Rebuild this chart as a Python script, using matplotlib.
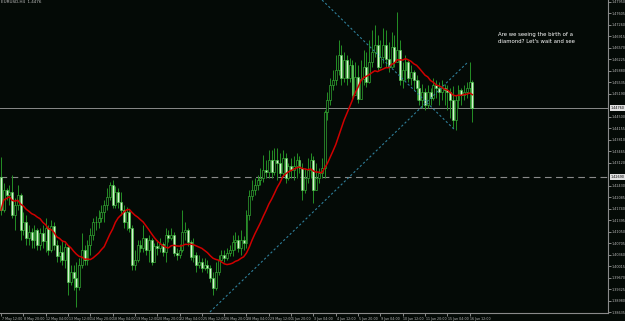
import matplotlib
matplotlib.use("Agg")
import matplotlib.pyplot as plt
import matplotlib.transforms as mtransforms
import numpy as np
import pandas as pd

# H4 candles, first open then close/high/low per bar
first_open = 1.4269
closes = [1.4170, 1.4230, 1.4215, 1.4224, 1.4155, 1.4185, 1.4215, 1.4110, 1.4134, 1.4086,
          1.4104, 1.4080, 1.4110, 1.4065, 1.4101, 1.4077, 1.4116, 1.4050, 1.4122, 1.4065,
          1.4032, 1.4044, 1.4020, 1.4059, 1.3954, 1.3984, 1.3966, 1.3939, 1.4005, 1.4050,
          1.4020, 1.4065, 1.4095, 1.4134, 1.4134, 1.4146, 1.4164, 1.4185, 1.4209, 1.4245,
          1.4185, 1.4224, 1.4194, 1.4170, 1.4134, 1.4164, 1.4116, 1.4005, 1.4020, 1.4065,
          1.4056, 1.4086, 1.4050, 1.4080, 1.4014, 1.4062, 1.4056, 1.4068, 1.4044, 1.4095,
          1.4086, 1.4095, 1.4041, 1.4035, 1.4050, 1.4104, 1.4110, 1.4074, 1.4029, 1.4035,
          1.4005, 1.4014, 1.3996, 1.4005, 1.3996, 1.3966, 1.3936, 1.3984, 1.4020, 1.4035,
          1.4026, 1.4041, 1.4050, 1.4074, 1.4080, 1.4056, 1.4080, 1.4071, 1.4155, 1.4212,
          1.4230, 1.4245, 1.4260, 1.4266, 1.4290, 1.4284, 1.4320, 1.4284, 1.4320, 1.4310,
          1.4280, 1.4325, 1.4265, 1.4301, 1.4289, 1.4301, 1.4319, 1.4295, 1.4229, 1.4265,
          1.4289, 1.4319, 1.4229, 1.4265, 1.4280, 1.4295, 1.4464, 1.4500, 1.4545, 1.4560,
          1.4590, 1.4635, 1.4566, 1.4620, 1.4566, 1.4605, 1.4516, 1.4570, 1.4504, 1.4564,
          1.4600, 1.4555, 1.4615, 1.4645, 1.4666, 1.4600, 1.4630, 1.4666, 1.4624, 1.4600,
          1.4660, 1.4615, 1.4650, 1.4560, 1.4590, 1.4614, 1.4566, 1.4584, 1.4560, 1.4536,
          1.4500, 1.4524, 1.4485, 1.4524, 1.4506, 1.4545, 1.4536, 1.4524, 1.4536, 1.4530,
          1.4524, 1.4500, 1.4440, 1.4500, 1.4530, 1.4515, 1.4524, 1.4536, 1.4554, 1.4476]
highs = [1.4329, 1.4251, 1.4236, 1.4245, 1.4275, 1.4206, 1.4245, 1.4221, 1.4164, 1.4155,
         1.4125, 1.4116, 1.4125, 1.4116, 1.4116, 1.4125, 1.4146, 1.4125, 1.4140, 1.4134,
         1.4080, 1.4065, 1.4080, 1.4071, 1.4065, 1.4005, 1.4005, 1.4014, 1.4026, 1.4101,
         1.4065, 1.4080, 1.4116, 1.4146, 1.4152, 1.4170, 1.4185, 1.4200, 1.4236, 1.4254,
         1.4260, 1.4242, 1.4236, 1.4224, 1.4185, 1.4179, 1.4170, 1.4125, 1.4050, 1.4080,
         1.4080, 1.4125, 1.4080, 1.4095, 1.4086, 1.4071, 1.4080, 1.4086, 1.4074, 1.4116,
         1.4110, 1.4116, 1.4104, 1.4056, 1.4068, 1.4170, 1.4134, 1.4116, 1.4080, 1.4086,
         1.4044, 1.4035, 1.4026, 1.4026, 1.4020, 1.4005, 1.3984, 1.4014, 1.4035, 1.4050,
         1.4050, 1.4056, 1.4065, 1.4095, 1.4104, 1.4095, 1.4110, 1.4092, 1.4170, 1.4230,
         1.4260, 1.4266, 1.4275, 1.4296, 1.4335, 1.4320, 1.4350, 1.4350, 1.4356, 1.4355,
         1.4340, 1.4349, 1.4340, 1.4310, 1.4325, 1.4331, 1.4340, 1.4331, 1.4310, 1.4295,
         1.4325, 1.4340, 1.4331, 1.4310, 1.4295, 1.4325, 1.4470, 1.4524, 1.4566, 1.4590,
         1.4635, 1.4680, 1.4665, 1.4644, 1.4635, 1.4626, 1.4620, 1.4614, 1.4605, 1.4620,
         1.4650, 1.4644, 1.4680, 1.4710, 1.4725, 1.4695, 1.4680, 1.4716, 1.4710, 1.4674,
         1.4704, 1.4695, 1.4764, 1.4680, 1.4614, 1.4635, 1.4620, 1.4605, 1.4590, 1.4575,
         1.4560, 1.4548, 1.4536, 1.4545, 1.4536, 1.4566, 1.4560, 1.4554, 1.4560, 1.4548,
         1.4545, 1.4536, 1.4542, 1.4515, 1.4545, 1.4536, 1.4545, 1.4554, 1.4614, 1.4560]
lows = [1.4155, 1.4164, 1.4200, 1.4185, 1.4146, 1.4110, 1.4170, 1.4080, 1.4095, 1.4065,
        1.4065, 1.4056, 1.4056, 1.4050, 1.4050, 1.4056, 1.4044, 1.4035, 1.4044, 1.4050,
        1.4014, 1.4014, 1.4005, 1.3996, 1.3915, 1.3945, 1.3930, 1.3879, 1.3930, 1.3996,
        1.4005, 1.4005, 1.4035, 1.4080, 1.4110, 1.4116, 1.4134, 1.4134, 1.4170, 1.4200,
        1.4176, 1.4176, 1.4176, 1.4155, 1.4116, 1.4110, 1.4104, 1.3990, 1.3990, 1.4014,
        1.4044, 1.4044, 1.4035, 1.4014, 1.4005, 1.4026, 1.4035, 1.4044, 1.4032, 1.4014,
        1.4074, 1.4080, 1.4032, 1.4020, 1.4026, 1.4044, 1.4080, 1.4062, 1.4020, 1.4014,
        1.3984, 1.3996, 1.3984, 1.3990, 1.3981, 1.3954, 1.3915, 1.3930, 1.3975, 1.4014,
        1.4014, 1.4020, 1.4032, 1.4032, 1.4050, 1.4044, 1.4035, 1.4050, 1.4056, 1.4140,
        1.4200, 1.4215, 1.4230, 1.4245, 1.4254, 1.4266, 1.4266, 1.4266, 1.4275, 1.4259,
        1.4271, 1.4271, 1.4250, 1.4259, 1.4265, 1.4259, 1.4265, 1.4280, 1.4199, 1.4220,
        1.4250, 1.4265, 1.4190, 1.4241, 1.4250, 1.4265, 1.4265, 1.4440, 1.4485, 1.4530,
        1.4545, 1.4575, 1.4545, 1.4554, 1.4545, 1.4554, 1.4500, 1.4524, 1.4490, 1.4515,
        1.4545, 1.4540, 1.4550, 1.4600, 1.4630, 1.4590, 1.4596, 1.4610, 1.4600, 1.4585,
        1.4600, 1.4600, 1.4614, 1.4545, 1.4536, 1.4560, 1.4554, 1.4545, 1.4530, 1.4500,
        1.4485, 1.4476, 1.4470, 1.4476, 1.4485, 1.4500, 1.4506, 1.4485, 1.4500, 1.4485,
        1.4470, 1.4446, 1.4416, 1.4410, 1.4476, 1.4485, 1.4500, 1.4506, 1.4476, 1.4434]

time_labels = ["7 May 12:00", "8 May 20:00", "12 May 04:00", "13 May 12:00", "14 May 20:00",
               "18 May 04:00", "19 May 12:00", "20 May 20:00", "22 May 04:00", "25 May 12:00",
               "26 May 20:00", "28 May 04:00", "29 May 12:00", "1 Jun 20:00", "3 Jun 04:00",
               "4 Jun 12:00", "5 Jun 20:00", "9 Jun 04:00", "10 Jun 12:00", "11 Jun 20:00",
               "15 Jun 04:00", "16 Jun 12:00"]
price_ticks = [1.47950, 1.47605, 1.47260, 1.46915, 1.46570, 1.46225, 1.45880, 1.45535,
               1.45190, 1.44845, 1.44500, 1.44155, 1.43810, 1.43465, 1.43120, 1.42775,
               1.42430, 1.42085, 1.41740, 1.41395, 1.41050, 1.40705, 1.40360, 1.40015,
               1.39670, 1.39325, 1.38980, 1.38635]
level_line = 1.4269

# trend lines drawn on the chart: (bar, price) pairs
rising_line = [(74.9, 1.3864), (167.4, 1.4614)]
falling_line = [(115.1, 1.4800), (162.7, 1.4410)]

note = "Are we seeing the birth of a\ndiamond? Let's wait and see"

bg = "#040a06"
fg = "#bcbcbc"

closes = np.array(closes)
opens = np.concatenate([[first_open], closes[:-1]])
highs = np.maximum(np.array(highs), np.maximum(opens, closes))
lows = np.minimum(np.array(lows), np.minimum(opens, closes))
x = np.arange(len(closes))
ma = pd.Series(closes).rolling(14, min_periods=1).mean()

fig = plt.figure(figsize=(6.25, 3.21), dpi=100, facecolor=bg)
ax = fig.add_axes([0, 8 / 321, 608 / 625, 313 / 321], facecolor=bg)

# candles
ax.vlines(x, lows, highs, color="#259025", lw=0.7, zorder=2)
up = closes >= opens
body_h = np.maximum(np.abs(closes - opens), 0.00005)
ax.bar(x[up], body_h[up], bottom=np.minimum(opens, closes)[up], width=0.7,
       facecolor=bg, edgecolor="#38b838", lw=0.45, zorder=3)
ax.bar(x[~up], body_h[~up], bottom=np.minimum(opens, closes)[~up], width=0.7,
       facecolor="#d8f2d2", edgecolor="#44c844", lw=0.45, zorder=3)

ax.plot(x, ma, color="#d00000", lw=1.1, zorder=4)

# horizontal lines
ax.axhline(closes[-1], color="#8a8a8a", lw=0.7, zorder=1)
ax.axhline(level_line, color="#8a8a8a", lw=0.8, ls=(0, (6, 4)), zorder=1)

for pts in (rising_line, falling_line):
    ax.plot([p[0] for p in pts], [p[1] for p in pts], color="#2f7f9a",
            lw=0.8, ls=(0, (2, 2)), zorder=5)

ax.text(178.0, 1.4705, note, color="white", fontsize=3.9, va="top", ha="left",
        linespacing=1.5)
fig.text(0.001, 0.999, "EURUSD,H4  1.4476", color=fg, fontsize=3.0, va="top", ha="left")

ax.set_xlim(-0.36, 217.6)
ax.set_ylim(1.3861, 1.4800)

# price labels hidden behind the two marker boxes
boxed = [closes[-1], level_line]
shown = [p for p in price_ticks if min(abs(p - b) for b in boxed) > 0.0015]

ax.set_xticks(x[::8][:len(time_labels)])
ax.set_xticklabels(time_labels, ha="left")
ax.set_yticks(shown)
ax.set_yticklabels([f"{p:.5f}" for p in shown])
ax.yaxis.tick_right()
ax.tick_params(axis="x", colors=fg, labelsize=2.3, length=2, width=0.5, pad=0.8,
               direction="out")
ax.tick_params(axis="y", colors=fg, labelsize=2.4, length=2, width=0.5, pad=0.8)
for lbl in ax.get_xticklabels():
    lbl.set_transform(lbl.get_transform() + mtransforms.ScaledTranslation(0.8 / 100, 0, fig.dpi_scale_trans))

for side in ("top", "left"):
    ax.spines[side].set_visible(False)
for side in ("right", "bottom"):
    ax.spines[side].set_color("#8a8a8a")
    ax.spines[side].set_linewidth(0.8)

tr = mtransforms.blended_transform_factory(ax.transAxes, ax.transData)
for val in boxed:
    ax.text(1.004, val, f"{val:.5f}", transform=tr, fontsize=2.4, color="black",
            va="center", ha="left", clip_on=False, zorder=6,
            bbox=dict(facecolor="#e0e0e0", edgecolor="none", pad=0.5))

fig.savefig("out.png", dpi=100, facecolor=bg)
